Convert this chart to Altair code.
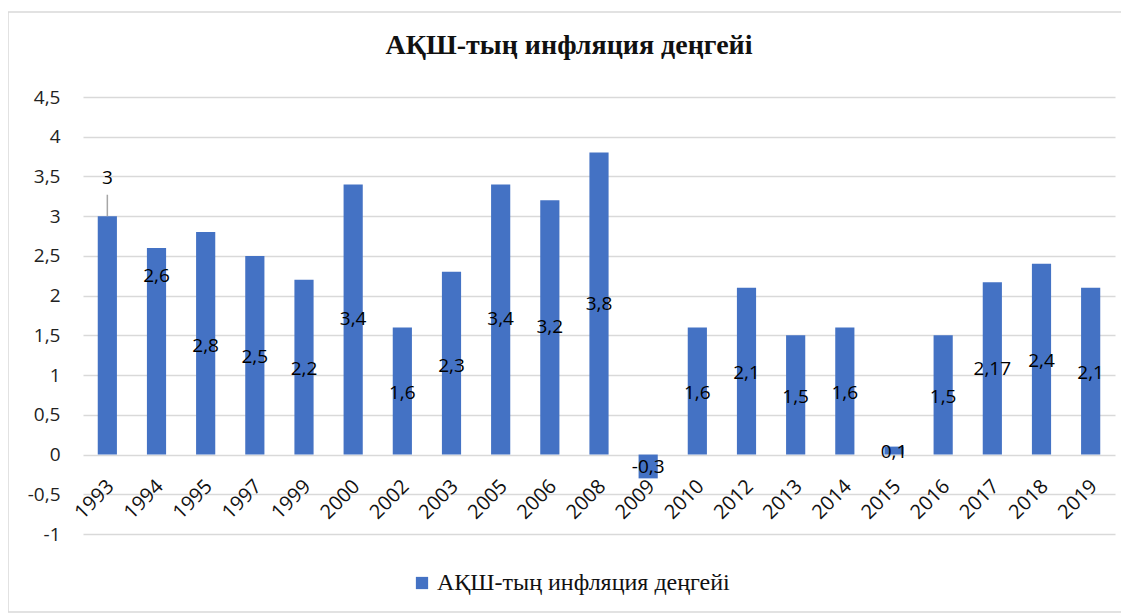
import altair as alt
import pandas as pd

years = ["1993", "1994", "1995", "1997", "1999", "2000", "2002", "2003", "2005", "2006",
         "2008", "2009", "2010", "2012", "2013", "2014", "2015", "2016", "2017", "2018", "2019"]
values = [3, 2.6, 2.8, 2.5, 2.2, 3.4, 1.6, 2.3, 3.4, 3.2,
          3.8, -0.3, 1.6, 2.1, 1.5, 1.6, 0.1, 1.5, 2.17, 2.4, 2.1]
# where the (manually moved) data labels sit, in data units
label_pos = [3.48, 2.25, 1.37, 1.23, 1.08, 1.70, 0.78, 1.12, 1.70, 1.60,
             1.90, -0.16, 0.78, 1.03, 0.73, 0.78, 0.03, 0.73, 1.08, 1.18, 1.03]
y_ticks = [-1, -0.5, 0, 0.5, 1, 1.5, 2, 2.5, 3, 3.5, 4, 4.5]
series_name = "АҚШ-тың инфляция деңгейі"
title_text = "АҚШ-тың инфляция деңгейі"

df = pd.DataFrame({
    "year": years,
    "value": values,
    "lab": [str(v).replace(".", ",") for v in values],
    "lpos": label_pos,
    "zero": [0] * len(years),
    "series": [series_name] * len(years),
})

W, H = 1032, 437
BLUE = "#4472C4"

x_enc = alt.X("year:N", sort=years, axis=None,
              scale=alt.Scale(paddingInner=0.61, paddingOuter=0.3))
y_scale = alt.Scale(domain=[-1, 4.5], nice=False, zero=False)
y_axis = alt.Axis(values=y_ticks, title=None, domain=False, ticks=False,
                  labelExpr="replace('' + datum.value, '.', ',')",
                  labelFont="Open Sans", labelFontSize=19, labelColor="#222222",
                  labelPadding=23, gridColor="#d9d9d9", gridWidth=1.5,
                  labelOverlap=False)

base = alt.Chart(df)

bars = base.mark_bar(color=BLUE).encode(
    x=x_enc,
    y=alt.Y("value:Q", scale=y_scale, axis=y_axis),
    y2=alt.Y2("zero:Q"),
    color=alt.Color("series:N", scale=alt.Scale(range=[BLUE]),
                    legend=alt.Legend(title=None, orient="none", legendX=327, legendY=474,
                                      symbolType="square", symbolSize=150,
                                      symbolStrokeWidth=0, labelLimit=0,
                                      labelFont="Liberation Serif", labelFontSize=24,
                                      labelColor="#111111", labelOffset=3)),
)

leader = base.transform_filter(alt.datum.year == "1993").mark_rule(
    color="#a6a6a6", strokeWidth=1.5).encode(
    x=x_enc,
    y=alt.Y("value:Q", scale=y_scale, axis=y_axis),
    y2=alt.datum(3.27),
)

labels = base.mark_text(font="Open Sans", fontSize=19, color="#000000",
                        baseline="middle", align="center").encode(
    x=x_enc,
    y=alt.Y("lpos:Q", scale=y_scale, axis=y_axis),
    text="lab:N",
)

xlabels = base.mark_text(font="Open Sans", fontSize=20, color="#111111",
                         angle=315, align="right", baseline="middle",
                         dx=-18, dy=23).encode(
    x=x_enc,
    y=alt.Y("zero:Q", scale=y_scale, axis=y_axis),
    text="year:N",
)

frame = base.transform_filter(alt.datum.year == "1993").mark_rect(
    fill=None, stroke="#d9d9d9", strokeWidth=1.5, clip=False).encode(
    x=alt.value(-75), x2=alt.value(W + 8),
    y=alt.value(-85), y2=alt.value(H + 78),
)

chart = alt.layer(frame, bars, leader, labels, xlabels).properties(
    width=W, height=H,
    padding={"left": 75, "top": 89, "right": 6, "bottom": 82},
    autosize=alt.AutoSizeParams(type="none"),
    title=alt.TitleParams(title_text, font="Liberation Serif", fontSize=28,
                          fontWeight="bold", color="#111111", anchor="middle",
                          dx=-30, offset=-49),
).configure_view(stroke=None)

chart.save("out.html", embed_options={"renderer": "svg", "actions": False})
